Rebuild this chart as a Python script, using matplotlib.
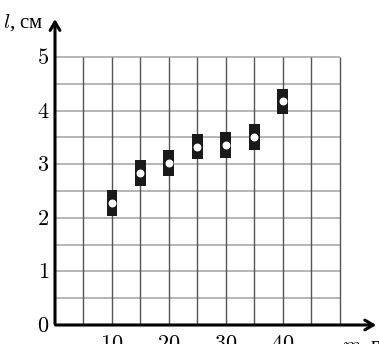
import matplotlib.pyplot as plt
import numpy as np

plt.rcParams['mathtext.fontset'] = 'cm'
plt.rcParams['font.family'] = ['Liberation Serif', 'DejaVu Serif']

# mass, g  /  length, cm
mass = [10, 15, 20, 25, 30, 35, 40]
length = [2.28, 2.83, 3.02, 3.33, 3.36, 3.51, 4.17]
err = 0.24

y_ticks = [0, 1, 2, 3, 4, 5]
x_ticks = [10, 20, 30, 40]

fig = plt.figure(figsize=(3.79, 3.44), dpi=100)
ax = fig.add_axes([55 / 379, 19 / 344, 324 / 379, 325 / 344])
ax.set_xlim(0, 324 / 5.694)
ax.set_ylim(0, 325 / 53.6)

# grid
ax.hlines(np.arange(0.5, 5.01, 0.5), 0, 50, color='#b0b0b0', lw=1.3, zorder=1)
ax.vlines(np.arange(5, 50.1, 5), 0, 5, color='#555555', lw=1.0, zorder=1)

# axes with arrows
for s in ax.spines.values():
    s.set_visible(False)
arrow = dict(arrowstyle='->,head_length=0.6,head_width=0.35', lw=2.2, color='black')
ax.annotate('', xy=(0, 5.76), xytext=(0, -0.03), arrowprops=arrow,
            annotation_clip=False)
ax.annotate('', xy=(56.9, 0), xytext=(-0.4, 0), arrowprops=arrow,
            annotation_clip=False)

# data marks
ax.bar(mass, [2 * err] * len(mass), bottom=[v - err for v in length], width=1.9,
       color='#1a1a1a', zorder=3)
ax.scatter(mass, length, s=22, color='white', zorder=4)

ax.set_yticks(y_ticks, [f'${v}$' for v in y_ticks], fontsize=16)
ax.set_xticks(x_ticks, [f'${v}$' for v in x_ticks], fontsize=16)
ax.tick_params(length=0)
ax.tick_params(axis='y', pad=4)
ax.tick_params(axis='x', pad=8)

fig.text(3 / 379, 1 - 23 / 344, '$l$, см', fontsize=15, va='center', ha='left')
fig.text(342 / 379, 7 / 344, '$m$, г', fontsize=15, va='top', ha='left')

fig.savefig('out.png', dpi=100)
